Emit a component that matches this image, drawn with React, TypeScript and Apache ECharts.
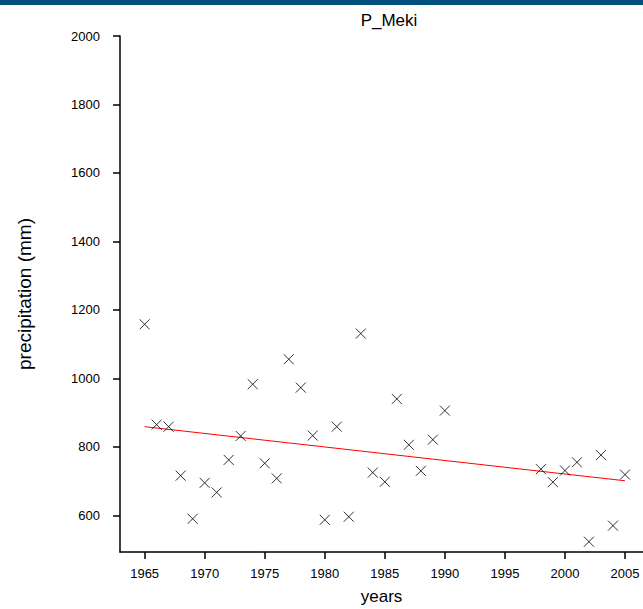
import React, { useEffect, useRef } from "react";
import * as echarts from "echarts";

const title = "P_Meki";
const xName = "years";
const yName = "precipitation (mm)";

const years = [
  1965, 1966, 1967, 1968, 1969, 1970, 1971, 1972, 1973, 1974, 1975, 1976, 1977,
  1978, 1979, 1980, 1981, 1982, 1983, 1984, 1985, 1986, 1987, 1988, 1989, 1990,
  1998, 1999, 2000, 2001, 2002, 2003, 2004, 2005,
];
const precipitation = [
  1158, 865, 859, 716, 590, 695, 667, 762, 832, 983, 752, 708, 1056,
  973, 833, 587, 859, 596, 1131, 725, 698, 940, 806, 730, 821, 906,
  735, 697, 731, 755, 523, 776, 570, 719,
];
const trendYears = [1965, 2005];
const trendValues = [859, 701];

const xTicks = [1965, 1970, 1975, 1980, 1985, 1990, 1995, 2000, 2005];
const yTicks = [600, 800, 1000, 1200, 1400, 1600, 1800, 2000];

const FONT = "Liberation Sans, Arial, sans-serif";

export default function App() {
  const ref = useRef<HTMLDivElement>(null);
  useEffect(() => {
    document.body.style.margin = "0";
    if (!ref.current) return;
    const chart = echarts.init(ref.current, null, { renderer: "svg" });
    chart.setOption({
      animation: false,
      backgroundColor: "#ffffff",
      textStyle: { fontFamily: FONT },
      title: {
        text: title,
        left: 384,
        textAlign: "center",
        top: 7,
        textStyle: { fontFamily: FONT, fontSize: 17, fontWeight: "normal", color: "#000" },
      },
      graphic: [
        {
          type: "rect",
          left: 0,
          top: 0,
          shape: { width: 643, height: 5 },
          style: { fill: "#004f7c" },
        },
      ],
      grid: { left: 120, right: 0, top: 36, bottom: 57, containLabel: false, outerBoundsMode: "none" },
      xAxis: {
        type: "value",
        min: 1962.95,
        max: 2006.5,
        name: xName,
        nameLocation: "middle",
        nameGap: 36,
        nameTextStyle: { fontFamily: FONT, fontSize: 17, color: "#000" },
        axisLine: { show: true, onZero: false, lineStyle: { color: "#000", width: 1.5 } },
        axisTick: { show: true, length: 7, customValues: xTicks, lineStyle: { color: "#000", width: 1.5 } },
        axisLabel: {
          customValues: xTicks,
          formatter: (v: number) => String(v),
          margin: 15,
          fontFamily: FONT,
          fontSize: 13,
          color: "#000",
        },
        splitLine: { show: false },
      },
      yAxis: {
        type: "value",
        min: 493,
        max: 2000,
        name: yName,
        nameLocation: "middle",
        nameGap: 86,
        nameRotate: 90,
        nameTextStyle: { fontFamily: FONT, fontSize: 19, color: "#000" },
        axisLine: { show: true, onZero: false, lineStyle: { color: "#000", width: 1.5 } },
        axisTick: { show: true, length: 7, customValues: yTicks, lineStyle: { color: "#000", width: 1.5 } },
        axisLabel: {
          customValues: yTicks,
          formatter: (v: number) => String(v),
          margin: 20,
          fontFamily: FONT,
          fontSize: 13,
          color: "#000",
        },
        splitLine: { show: false },
      },
      series: [
        {
          type: "line",
          data: trendYears.map((y, i) => [y, trendValues[i]]),
          symbol: "none",
          lineStyle: { color: "#ff0000", width: 1 },
          z: 2,
        },
        {
          type: "scatter",
          data: years.map((y, i) => [y, precipitation[i]]),
          symbol: "path://M0,0L10,10M10,0L0,10",
          symbolSize: 10,
          itemStyle: { color: "rgba(0,0,0,0)", borderColor: "#000", borderWidth: 1 },
          z: 3,
        },
      ],
    });
    return () => chart.dispose();
  }, []);
  return <div ref={ref} style={{ width: 643, height: 609 }} />;
}
